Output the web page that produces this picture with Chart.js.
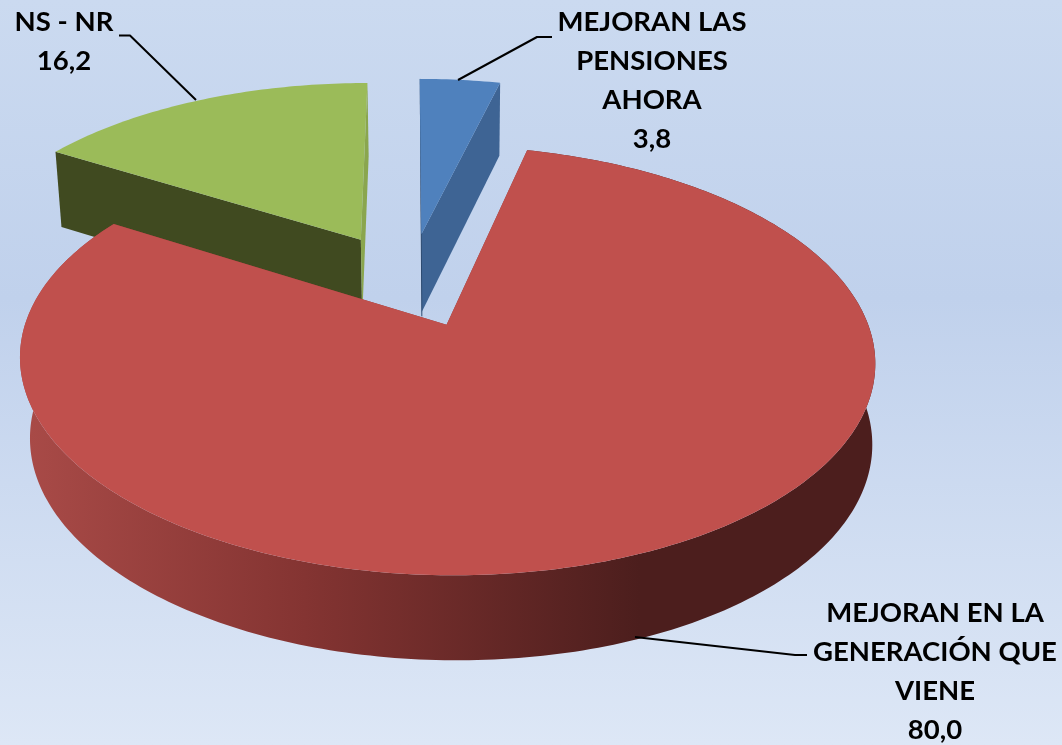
<!DOCTYPE html>
<html><head><meta charset="utf-8">
<script src="https://cdn.jsdelivr.net/npm/chart.js@4"></script>
<style>html,body{margin:0;padding:0;background:#c9d8ef;overflow:hidden}canvas{display:block}</style>
</head><body><canvas id="c" width="1062" height="745"></canvas>
<script>
const categories = ["MEJORAN LAS PENSIONES AHORA", "MEJORAN EN LA GENERACIÓN QUE VIENE", "NS - NR"];
const values = [3.8, 80.0, 16.2];
const valueLabels = ["3,8", "80,0", "16,2"];
const labelLines = [["MEJORAN LAS","PENSIONES","AHORA"],["MEJORAN EN LA","GENERACIÓN QUE","VIENE"],["NS - NR"]];
const topColors = ["#4f81bd", "#c0504d", "#9bbb59"];
const wallColors = ["#3e6494", null, "#404a20"];
const cutColors = ["#2c4a70", "#8f3c3a", "#8aa64e"];
const explode = [84, 76.5, 84];

// perspective projection of the pie plane
const P = {cx:409.5, a:407, k:0.1616, A:149, B:281.5, wallCx:[450,678,450], wallShrink:0.0152};
const proj = (u,v)=>{const w=1-P.k*v; return [P.cx+P.a*u/w,(P.A*v+P.B)/w];};
const down = (p,v,i)=>[p[0]+(P.wallCx[i]-p[0])*P.wallShrink, p[1]+79+5*v];

function trace(ctx,pts){ctx.beginPath();pts.forEach((p,i)=>i?ctx.lineTo(p[0],p[1]):ctx.moveTo(p[0],p[1]));ctx.closePath();}

const pie3d = {
  id:'pie3d',
  beforeDraw(chart){
    const ctx=chart.ctx,g=ctx.createLinearGradient(0,0,0,745);
    g.addColorStop(0,'#cbdaf0');g.addColorStop(0.4,'#c0d1ec');g.addColorStop(1,'#dde7f6');
    ctx.save();ctx.fillStyle=g;ctx.fillRect(0,0,1062,745);ctx.restore();
  },
  beforeDatasetDraw(chart,args){
    const ctx=chart.ctx, arcs=args.meta.data;
    const order=[2,0,1];
    ctx.save();
    for(const i of order){
      const el=arcs[i], s=el.getProps(['startAngle','endAngle','outerRadius']);
      const off=el.options.offset/s.outerRadius, mid=(s.startAngle+s.endAngle)/2;
      const ou=off*Math.cos(mid), ov=off*Math.sin(mid);
      const rim=[],n=Math.ceil((s.endAngle-s.startAngle)*60);
      for(let j=0;j<=n;j++){const t=s.startAngle+(s.endAngle-s.startAngle)*j/n;rim.push([ou+Math.cos(t),ov+Math.sin(t)]);}
      const top=rim.map(q=>proj(q[0],q[1])), bot=rim.map((q,j)=>down(top[j],q[1],i));
      const c=proj(ou,ov), cb=down(c,ov,i);
      // cut faces
      trace(ctx,[c,top[0],bot[0],cb]);ctx.fillStyle=i===2?wallColors[2]:cutColors[i];ctx.fill();
      trace(ctx,[c,top[n],bot[n],cb]);ctx.fillStyle=i===2?cutColors[2]:wallColors[i]||cutColors[i];ctx.fill();
      // outer wall: only the red slice turns its rim towards the viewer
      if(i===1){
        const fill=ctx.createLinearGradient(30,0,640,0);
        fill.addColorStop(0,'#a84a47');fill.addColorStop(0.45,'#843432');fill.addColorStop(1,'#4c1e1d');
        trace(ctx,top.concat(bot.slice().reverse()));ctx.fillStyle=fill;ctx.fill();
      }
      if(i===0){
        const e=top[0];ctx.beginPath();ctx.moveTo(e[0]+.5,e[1]);ctx.lineTo(c[0]+.5,c[1]+82);
        ctx.strokeStyle='#2c4a70';ctx.lineWidth=1;ctx.stroke();
      }
      // top face
      trace(ctx,[c].concat(top));ctx.fillStyle=el.options.backgroundColor;ctx.fill();
    }
    ctx.restore();
    return false;
  },
  afterDatasetsDraw(chart){
    const ctx=chart.ctx;
    ctx.save();
    ctx.strokeStyle='#000';ctx.lineWidth=2;ctx.lineJoin='round';
    [[[458,80],[537,37],[552,37]],[[635,637],[795,655],[807,655]],[[196,100],[130,35.5],[119,35.5]]].forEach(l=>{
      ctx.beginPath();l.forEach((p,i)=>i?ctx.lineTo(p[0],p[1]):ctx.moveTo(p[0],p[1]));ctx.stroke();
    });
    ctx.fillStyle='#000';ctx.font='bold 27.5px Lato';ctx.textAlign='center';ctx.textBaseline='alphabetic';
    const anchors=[[652,31],[935,622],[64,31]];
    labelLines.forEach((ls,i)=>ls.concat(valueLabels[i]).forEach((t,j)=>ctx.fillText(t,anchors[i][0],anchors[i][1]+j*39)));
    ctx.restore();
  }
};

new Chart(document.getElementById('c'),{
  type:'pie',
  data:{labels:categories,datasets:[{data:values,backgroundColor:topColors,borderWidth:0,offset:explode}]},
  options:{responsive:false,animation:false,devicePixelRatio:1,rotation:0,
    layout:{padding:0},plugins:{legend:{display:false},tooltip:{enabled:false}}},
  plugins:[pie3d]
});
</script>
</body></html>
